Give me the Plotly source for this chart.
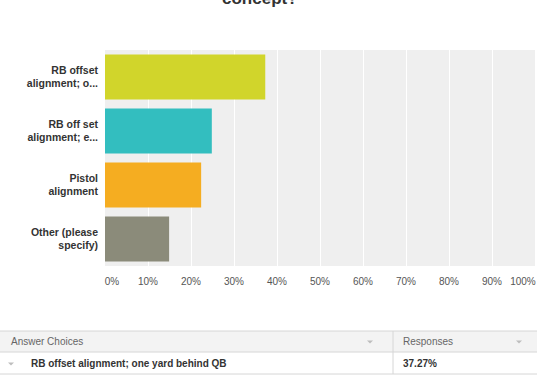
import plotly.graph_objects as go

categories = ["RB offset<br>alignment; o...", "RB off set<br>alignment; e...", "Pistol<br>alignment", "Other (please<br>specify)"]
values = [37.27, 24.84, 22.36, 14.91]
colors = ["#d1d52b", "#33bebf", "#f5ad21", "#8b8b7a"]
grid_vals = [0, 10, 20, 30, 40, 50, 60, 70, 80, 90, 100]
label_vals = [1.6, 10, 20, 30, 40, 50, 60, 70, 80, 90, 97.2]
tick_text = ["0%", "10%", "20%", "30%", "40%", "50%", "60%", "70%", "80%", "90%", "100%"]
title_text = "concept?"
table_header = ["Answer Choices", "Responses"]
table_row = ["RB offset alignment; one yard behind QB", "37.27%"]

W, H = 537, 376
L, R, T, B = 105, 535, 50, 266
FONT = "Arial, Liberation Sans, sans-serif"


def X(px):
    return (px - L) / (R - L)


def Y(py):
    return (B - py) / (B - T)


fig = go.Figure()
fig.add_trace(go.Bar(
    x=values, y=categories, orientation="h",
    marker=dict(color=colors, line=dict(width=0)),
    hoverinfo="skip",
))
# empty helper trace so the label axis is drawn
fig.add_trace(go.Scatter(x=[None], y=[categories[0]], xaxis="x2", yaxis="y", mode="markers",
                         marker=dict(opacity=0), hoverinfo="skip", showlegend=False))

shapes = []
annotations = []

# title (partially cut at top)
annotations.append(dict(text="<b>" + title_text + "</b>", x=X(260), y=Y(10), xref="paper", yref="paper",
                        xanchor="center", yanchor="bottom", showarrow=False,
                        font=dict(family=FONT, size=17, color="#333333")))

# table
border = "#d6d6d6"
shapes.append(dict(type="rect", xref="paper", yref="paper", x0=X(0), x1=X(540), y0=Y(331), y1=Y(352),
                   fillcolor="#f3f3f3", line=dict(width=0), layer="below"))
for py in [331, 352, 374]:
    shapes.append(dict(type="line", xref="paper", yref="paper", x0=X(0), x1=X(540), y0=Y(py), y1=Y(py),
                       line=dict(color=border, width=1)))
shapes.append(dict(type="line", xref="paper", yref="paper", x0=X(393), x1=X(393), y0=Y(331), y1=Y(374),
                   line=dict(color=border, width=1)))


def tri(cx, cy):
    return dict(type="path", xref="paper", yref="paper",
                path=f"M {X(cx-3)} {Y(cy-1.5)} L {X(cx+3)} {Y(cy-1.5)} L {X(cx)} {Y(cy+1.5)} Z",
                fillcolor="#bdbdbd", line=dict(width=0))


shapes += [tri(370, 342), tri(519, 342), tri(11, 364)]

annotations.append(dict(text=table_header[0], x=X(9), y=Y(341.5), xref="paper", yref="paper",
                        xanchor="left", yanchor="middle", showarrow=False,
                        font=dict(family=FONT, size=10, color="#666666")))
annotations.append(dict(text=table_header[1], x=X(401), y=Y(341.5), xref="paper", yref="paper",
                        xanchor="left", yanchor="middle", showarrow=False,
                        font=dict(family=FONT, size=10, color="#666666")))
annotations.append(dict(text="<b>" + table_row[0] + "</b>", x=X(29), y=Y(363), xref="paper", yref="paper",
                        xanchor="left", yanchor="middle", showarrow=False,
                        font=dict(family=FONT, size=10, color="#333333")))
annotations.append(dict(text="<b>" + table_row[1] + "</b>", x=X(401), y=Y(363), xref="paper", yref="paper",
                        xanchor="left", yanchor="middle", showarrow=False,
                        font=dict(family=FONT, size=10, color="#333333")))

fig.update_layout(
    width=W, height=H,
    margin=dict(l=L, r=W - R, t=T, b=H - B, pad=0),
    paper_bgcolor="white", plot_bgcolor="#efefef",
    bargap=0.17,
    showlegend=False,
    shapes=shapes,
    annotations=annotations,
    xaxis=dict(range=[0, 100], tickvals=grid_vals, showticklabels=False, showgrid=True,
               gridcolor="#ffffff", gridwidth=1, zeroline=False, showline=False, ticks="",
               automargin=False, fixedrange=True),
    xaxis2=dict(range=[0, 100], overlaying="x", anchor="y", side="bottom", tickvals=label_vals,
                ticktext=tick_text, showgrid=False, zeroline=False, showline=False, ticks="",
                ticklabelstandoff=8, automargin=False, fixedrange=True,
                tickfont=dict(family=FONT, size=10, color="#555555")),
    yaxis=dict(autorange="reversed", showgrid=False, zeroline=False, showline=False, ticks="",
               ticklabelstandoff=6, fixedrange=True,
               tickfont=dict(family=FONT, size=10.5, color="#333333")),
    font=dict(family=FONT),
)
fig.update_yaxes(tickprefix="<b>", ticksuffix="</b>")

fig.write_html("out.html", config={"displayModeBar": False})
